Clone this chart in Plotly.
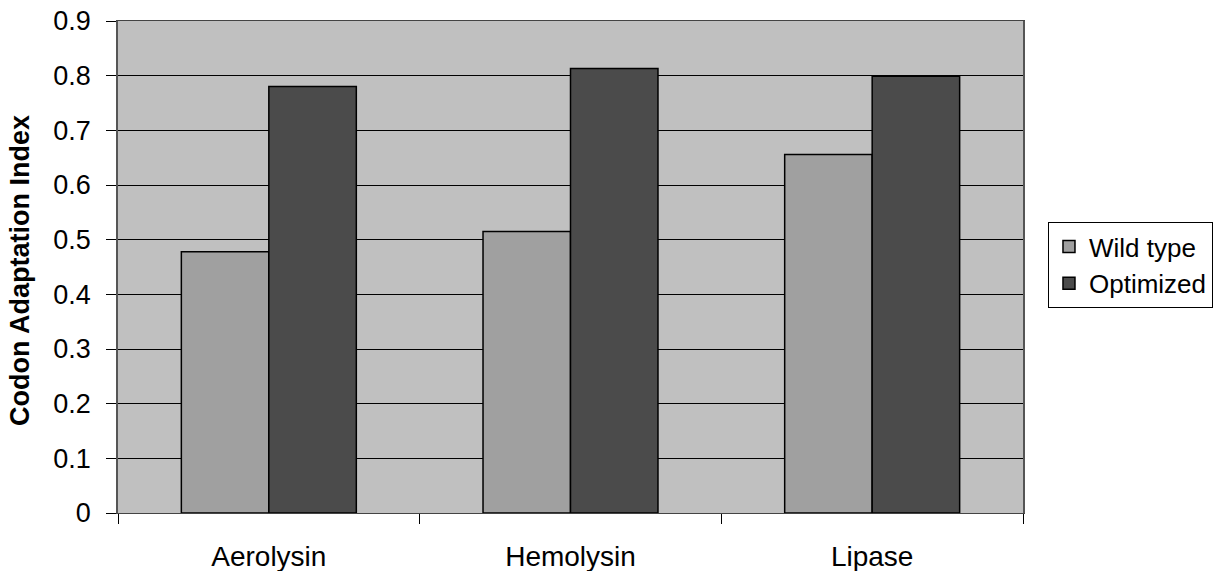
import plotly.graph_objects as go

categories = ["Aerolysin", "Hemolysin", "Lipase"]
wild_type = [0.478, 0.515, 0.656]
optimized = [0.780, 0.813, 0.799]
y_ticks = [0, 0.1, 0.2, 0.3, 0.4, 0.5, 0.6, 0.7, 0.8, 0.9]
y_tick_labels = ["0", "0.1", "0.2", "0.3", "0.4", "0.5", "0.6", "0.7", "0.8", "0.9"]
y_title = "Codon Adaptation Index"

font_family = "Liberation Sans, Arial, sans-serif"

fig = go.Figure()
fig.add_trace(go.Bar(x=categories, y=wild_type, name="Wild type",
                     marker=dict(color="#a0a0a0", line=dict(color="black", width=1.5))))
fig.add_trace(go.Bar(x=categories, y=optimized, name="Optimized",
                     marker=dict(color="#4b4b4b", line=dict(color="black", width=1.5))))

fig.update_layout(
    width=1225, height=571,
    margin=dict(l=118, r=202, t=21, b=58, autoexpand=False),
    paper_bgcolor="white",
    plot_bgcolor="#c0c0c0",
    barmode="group",
    bargap=0.42,
    bargroupgap=0,
    font=dict(family=font_family, size=27, color="black"),
    showlegend=True,
    legend=dict(x=1.0276, y=0.504, xanchor="left", yanchor="middle",
                bordercolor="black", borderwidth=1, bgcolor="white",
                font=dict(size=26), tracegroupgap=0),
    annotations=[dict(text="<b>" + y_title + "</b>", xref="paper", yref="paper",
                      x=-0.1083, y=0.494, xanchor="center", yanchor="middle",
                      textangle=-90, showarrow=False, font=dict(size=27))],
)
fig.update_xaxes(
    type="category",
    tickson="boundaries",
    ticks="outside", ticklen=10, tickcolor="black",
    showline=True, linecolor="#444", linewidth=1, mirror=True,
    showgrid=False,
    tickfont=dict(size=28),
    ticklabelstandoff=18,
    ticklabeloverflow="allow",
    automargin=False,
)
fig.update_yaxes(
    range=[0, 0.9],
    tickvals=y_ticks, ticktext=y_tick_labels,
    ticks="outside", ticklen=10, tickcolor="black",
    showline=True, linecolor="#555", linewidth=1.5, mirror=True,
    showgrid=True, gridcolor="black", gridwidth=1,
    zeroline=False,
    tickfont=dict(size=27),
    ticklabelstandoff=10,
    ticklabeloverflow="allow",
    automargin=False,
)

fig.write_html(
    "out.html",
    config={"displayModeBar": False},
    post_script="document.body.style.margin='0';document.body.style.overflow='hidden';",
)
